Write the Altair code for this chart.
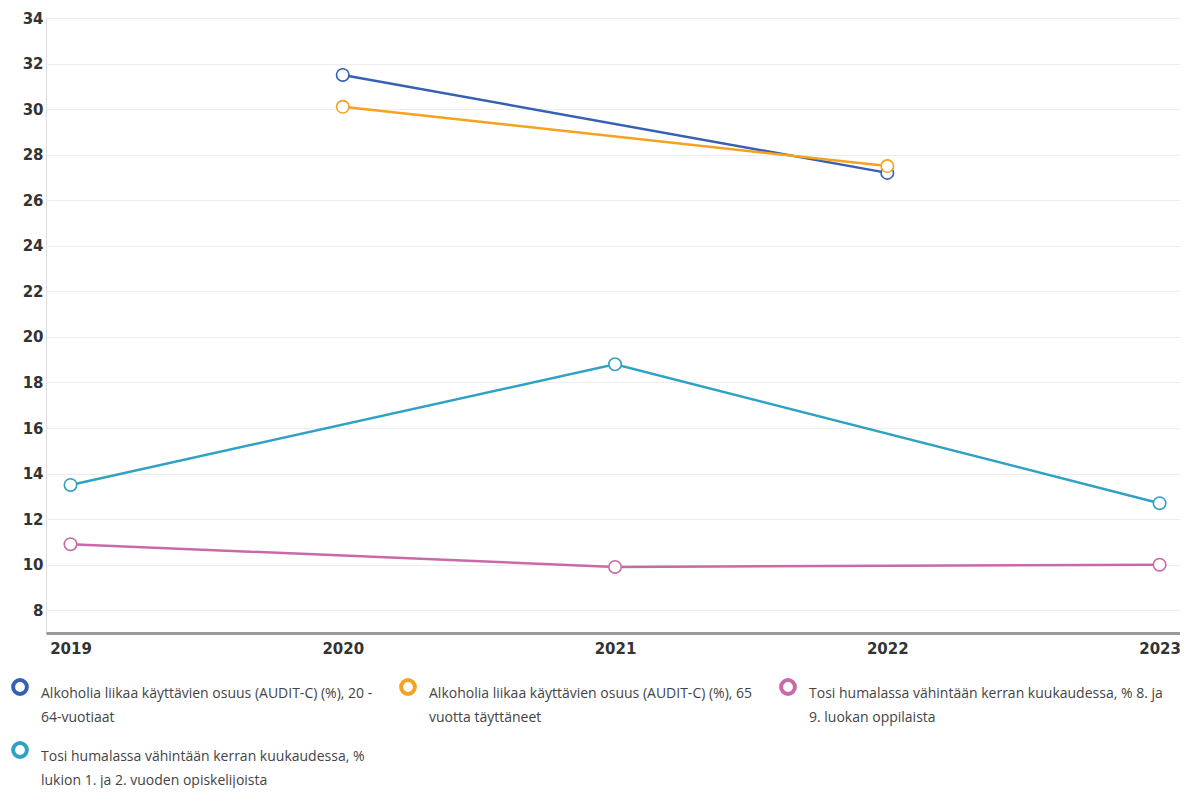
import json
import altair as alt
import pandas as pd

series = [
    "Alkoholia liikaa käyttävien osuus (AUDIT-C) (%), 20 - 64-vuotiaat",
    "Alkoholia liikaa käyttävien osuus (AUDIT-C) (%), 65 vuotta täyttäneet",
    "Tosi humalassa vähintään kerran kuukaudessa, % 8. ja 9. luokan oppilaista",
    "Tosi humalassa vähintään kerran kuukaudessa, % lukion 1. ja 2. vuoden opiskelijoista",
]
legend_lines = [
    ["Alkoholia liikaa käyttävien osuus (AUDIT-C) (%), 20 -", "64-vuotiaat"],
    ["Alkoholia liikaa käyttävien osuus (AUDIT-C) (%), 65", "vuotta täyttäneet"],
    ["Tosi humalassa vähintään kerran kuukaudessa, % 8. ja", "9. luokan oppilaista"],
    ["Tosi humalassa vähintään kerran kuukaudessa, %", "lukion 1. ja 2. vuoden opiskelijoista"],
]
colors = ["#3561b3", "#f5a21e", "#c96aa8", "#2fa2c4"]

years_adults = [2020, 2022]
adults_20_64 = [31.5, 27.2]
adults_65 = [30.1, 27.5]
years_youth = [2019, 2021, 2023]
pupils_8_9 = [10.9, 9.9, 10.0]
lukio_1_2 = [13.5, 18.8, 12.7]

x_ticks = [2019, 2020, 2021, 2022, 2023]
y_ticks = [8, 10, 12, 14, 16, 18, 20, 22, 24, 26, 28, 30, 32, 34]

rows = []
for y, v in zip(years_adults, adults_20_64):
    rows.append({"vuosi": y, "arvo": v, "sarja": series[0]})
for y, v in zip(years_adults, adults_65):
    rows.append({"vuosi": y, "arvo": v, "sarja": series[1]})
for y, v in zip(years_youth, pupils_8_9):
    rows.append({"vuosi": y, "arvo": v, "sarja": series[2]})
for y, v in zip(years_youth, lukio_1_2):
    rows.append({"vuosi": y, "arvo": v, "sarja": series[3]})
df = pd.DataFrame(rows)

label_map = "{" + ",".join(json.dumps(s) + ":" + json.dumps(l) for s, l in zip(series, legend_lines)) + "}"

x_enc = alt.X(
    "vuosi:Q",
    scale=alt.Scale(domain=[2018.91, 2023.075], nice=False, zero=False),
    axis=alt.Axis(
        values=x_ticks, format="d", title=None, grid=False, ticks=False,
        domainColor="#9a9a9a", domainWidth=3, labelFont="DejaVu Sans",
        labelFontWeight="bold", labelFontSize=15, labelColor="#333333",
        labelPadding=8, labelFlush=False,
    ),
)
y_enc = alt.Y(
    "arvo:Q",
    scale=alt.Scale(domain=[7, 34], nice=False, zero=False),
    axis=alt.Axis(
        values=y_ticks, title=None, domain=False, ticks=False,
        gridColor="#ededed", gridWidth=1, labelFont="DejaVu Sans",
        labelFontWeight="bold", labelFontSize=15, labelColor="#333333",
        labelPadding=3,
    ),
)
color_enc = alt.Color(
    "sarja:N",
    scale=alt.Scale(domain=series, range=colors),
    legend=alt.Legend(
        title=None, orient="none", legendX=-35, legendY=660, direction="horizontal",
        columns=3, columnPadding=20, rowPadding=10, symbolType="circle",
        symbolSize=190, symbolStrokeWidth=4, symbolFillColor="white",
        labelFont="Open Sans", labelFontSize=14, labelColor="#444444",
        labelLimit=400, labelExpr=label_map + "[datum.label]", labelOffset=12,
        labelBaseline="top", symbolOffset=0,
    ),
)

base = alt.Chart(df).encode(x=x_enc, y=y_enc, color=color_enc, detail="sarja:N")
lines = base.mark_line(strokeWidth=2.5)
points = base.mark_point(filled=False, fill="white", size=155, strokeWidth=1.6, opacity=1, fillOpacity=1)

chart = (
    alt.layer(lines, points)
    .properties(
        width=1134, height=615,
        padding={"left": 38, "top": 10, "right": 0, "bottom": 155},
        autosize=alt.AutoSizeParams(type="none"),
    )
    .configure_view(stroke=None)
    .configure(style={"guide-label": {"lineHeight": 24}})
)
chart.save("out.html", embed_options={"renderer": "svg", "actions": False})
